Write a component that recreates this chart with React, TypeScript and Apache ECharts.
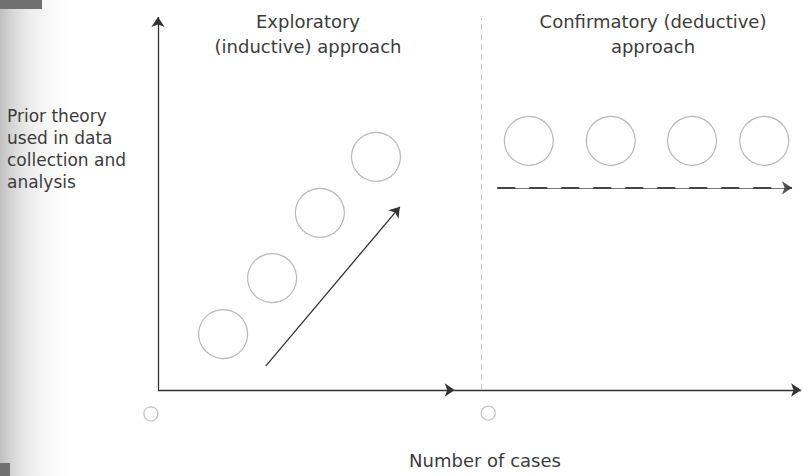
import React, { useEffect, useRef } from "react";
import * as echarts from "echarts";

// Conceptual positions in abstract units (cases 0..10, theory 0..10)
const inductiveCases = [1.01, 1.77, 2.51, 3.38];
const inductiveTheory = [1.5, 3.0, 4.75, 6.25];
const deductiveCases = [5.75, 7.02, 8.28, 9.4];
const deductiveTheory = [6.68, 6.68, 6.68, 6.68];
const originCases = [-0.11, 5.12];
const originTheory = [-0.64, -0.62];
const inductiveArrow = [[1.67, 0.64], [3.75, 4.91]];
const deductiveArrow = [[5.26, 5.42], [9.83, 5.42]];
const dividerLine = [[5.015, 0], [5.015, 9.97]];
const yAxisLine = [[0, 0], [0, 10]];
const xAxisParts = [
  [[0, 0], [4.6, 0]],
  [[4.6, 0], [9.97, 0]],
];

const headings = ["Exploratory\n(inductive) approach", "Confirmatory (deductive)\napproach"];
const yLabelLines = ["Prior theory", "used in data", "collection and", "analysis"];
const xLabel = "Number of cases";

const FONT = "DejaVu Sans";
const TEXT = "#3c3c3c";

export default function App() {
  const ref = useRef<HTMLDivElement>(null);
  useEffect(() => {
    if (!ref.current) return;
    const chart = echarts.init(ref.current, null, { renderer: "svg" });
    const zip = (xs: number[], ys: number[]) => xs.map((x, i) => [x, ys[i]]);
    chart.setOption({
      animation: false,
      backgroundColor: "#ffffff",
      grid: { left: 158, top: 17, width: 645, height: 373 },
      xAxis: { type: "value", min: 0, max: 10, show: false },
      yAxis: { type: "value", min: 0, max: 10, show: false },
      graphic: [
        {
          type: "rect",
          shape: { x: 0, y: 0, width: 80, height: 476 },
          style: {
            fill: new echarts.graphic.LinearGradient(0, 0, 1, 0, [
              { offset: 0, color: "rgba(165,165,165,0.7)" },
              { offset: 0.35, color: "rgba(205,205,205,0.4)" },
              { offset: 1, color: "rgba(255,255,255,0)" },
            ]),
          },
          silent: true,
        },
        { type: "rect", shape: { x: 0, y: 0, width: 42, height: 9 }, style: { fill: "#707070" }, silent: true },
        { type: "rect", shape: { x: 0, y: 463, width: 10, height: 13 }, style: { fill: "#707070" }, silent: true },
        {
          type: "text",
          x: 308,
          y: 9,
          style: { text: headings[0], font: `18px "${FONT}"`, fill: TEXT, align: "center", lineHeight: 25 },
        },
        {
          type: "text",
          x: 653,
          y: 9,
          style: { text: headings[1], font: `18px "${FONT}"`, fill: TEXT, align: "center", lineHeight: 25 },
        },
        {
          type: "text",
          x: 7,
          y: 105,
          style: { text: yLabelLines.join("\n"), font: `17px "${FONT}"`, fill: TEXT, align: "left", lineHeight: 22 },
        },
        {
          type: "text",
          x: 485,
          y: 451,
          style: { text: xLabel, font: `18px "${FONT}"`, fill: TEXT, align: "center" },
        },
      ],
      series: [
        {
          type: "lines",
          coordinateSystem: "cartesian2d",
          clip: false,
          silent: true,
          symbol: ["none", "arrow"],
          symbolSize: 10,
          lineStyle: { color: "#333", width: 1.3, opacity: 1 },
          data: [{ coords: yAxisLine }, ...xAxisParts.map((c) => ({ coords: c })), { coords: inductiveArrow }],
        },
        {
          type: "lines",
          coordinateSystem: "cartesian2d",
          clip: false,
          silent: true,
          symbol: ["none", "arrow"],
          symbolSize: 10,
          lineStyle: { color: "#555", width: 0.8, opacity: 1 },
          data: [{ coords: deductiveArrow }],
        },
        {
          type: "lines",
          coordinateSystem: "cartesian2d",
          clip: false,
          silent: true,
          symbol: ["none", "none"],
          lineStyle: { color: "#444", width: 1.8, type: [18, 14], opacity: 1 },
          data: [{ coords: deductiveArrow }],
        },
        {
          type: "lines",
          coordinateSystem: "cartesian2d",
          clip: false,
          silent: true,
          symbol: ["none", "none"],
          lineStyle: { color: "#c4c4c4", width: 1, type: [6, 4], opacity: 1 },
          data: [{ coords: dividerLine }],
        },
        {
          type: "scatter",
          clip: false,
          silent: true,
          symbol: "circle",
          symbolSize: 49,
          itemStyle: { color: "rgba(255,255,255,0)", borderColor: "#a6a6a6", borderWidth: 1.2 },
          data: [...zip(inductiveCases, inductiveTheory), ...zip(deductiveCases, deductiveTheory)],
        },
        {
          type: "scatter",
          clip: false,
          silent: true,
          symbol: "circle",
          symbolSize: 14,
          itemStyle: { color: "rgba(255,255,255,0)", borderColor: "#b0b0b0", borderWidth: 1.2 },
          data: zip(originCases, originTheory),
        },
      ],
    });
    return () => chart.dispose();
  }, []);
  return (
    <div
      ref={ref}
      style={{ position: "absolute", left: 0, top: 0, width: 803, height: 476, background: "#fff" }}
    />
  );
}
